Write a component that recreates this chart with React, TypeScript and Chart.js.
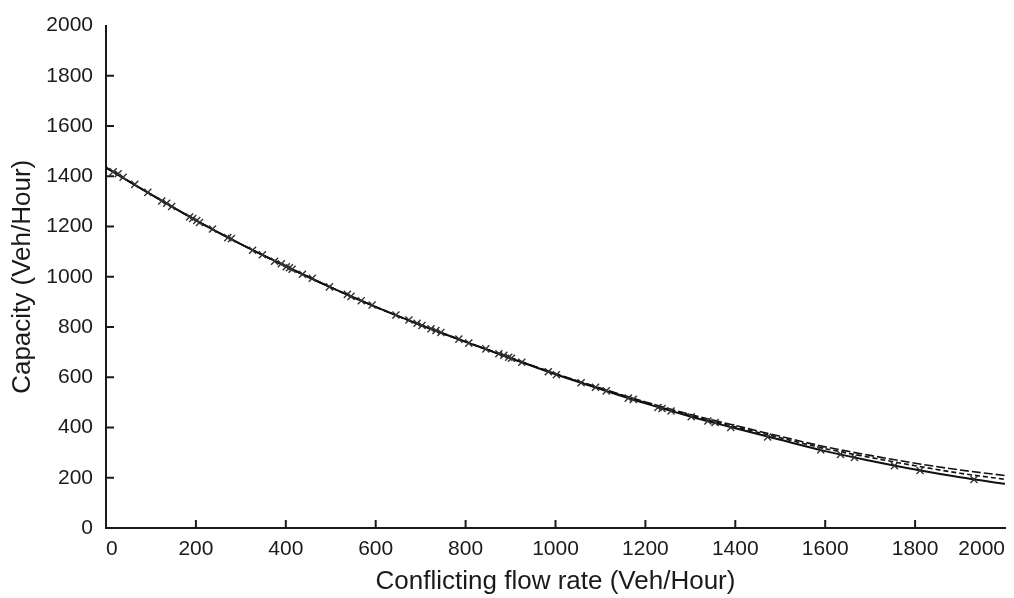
import React, { useEffect, useRef } from "react";
import { Chart, registerables } from "chart.js";

Chart.register(...registerables);

// Fitted curves (x = conflicting flow, y = capacity)
const curveX = [0, 100, 200, 300, 400, 500, 600, 700, 800, 900, 1000, 1100, 1200, 1300, 1400, 1500, 1600, 1700, 1800, 1900, 2000];
const solidY = [1435, 1328, 1225, 1130, 1042, 958, 880, 808, 741, 676, 612, 553, 496, 444, 397, 351, 306, 268, 233, 202, 176];
const longDashY = [1435, 1328, 1225, 1130, 1042, 958, 880, 808, 742, 678, 615, 557, 502, 452, 408, 365, 323, 289, 258, 231, 209];
const shortDashY = [1435, 1328, 1225, 1130, 1042, 958, 880, 808, 741, 677, 613, 555, 499, 448, 403, 359, 316, 281, 248, 218, 194];

// Observed points (x markers)
const obsX = [16, 27, 38, 64, 93, 124, 135, 146, 186, 193, 202, 208, 237, 271, 279, 326, 348, 375, 390, 401, 408, 414, 437, 459, 497, 537, 545, 568, 592, 645, 674, 692, 703, 723, 734, 745, 785, 807, 845, 874, 885, 896, 902, 925, 984, 1002, 1057, 1089, 1113, 1162, 1173, 1228, 1237, 1257, 1302, 1339, 1355, 1390, 1472, 1590, 1634, 1665, 1754, 1811, 1931];
const obsY = [1418, 1410, 1396, 1368, 1336, 1302, 1293, 1280, 1238, 1232, 1224, 1216, 1190, 1156, 1152, 1106, 1088, 1062, 1052, 1040, 1036, 1030, 1010, 994, 960, 930, 922, 905, 888, 848, 828, 815, 806, 793, 786, 778, 752, 736, 713, 694, 688, 680, 676, 660, 622, 610, 578, 560, 546, 517, 512, 480, 476, 466, 443, 426, 420, 400, 362, 311, 293, 281, 248, 229, 193];

const tickValues = [0, 200, 400, 600, 800, 1000, 1200, 1400, 1600, 1800, 2000];
const innerTickValues = [200, 400, 600, 800, 1000, 1200, 1400, 1600, 1800];

const xTitle = "Conflicting flow rate (Veh/Hour)";
const yTitle = "Capacity (Veh/Hour)";

const FONT = "'Liberation Sans', Arial, Helvetica, sans-serif";
const INK = "#1a1a1a";

const inwardTicks = {
  id: "inwardTicks",
  afterDraw(chart: any) {
    const { ctx, chartArea, scales } = chart;
    ctx.save();
    ctx.strokeStyle = INK;
    ctx.lineWidth = 2;
    ctx.beginPath();
    for (const v of innerTickValues) {
      const py = scales.y.getPixelForValue(v);
      ctx.moveTo(chartArea.left, py);
      ctx.lineTo(chartArea.left + 8, py);
      const px = scales.x.getPixelForValue(v);
      ctx.moveTo(px, chartArea.bottom);
      ctx.lineTo(px, chartArea.bottom - 8);
    }
    ctx.stroke();
    ctx.restore();
  },
};

export default function App() {
  const ref = useRef<HTMLCanvasElement>(null);
  useEffect(() => {
    document.body.style.margin = "0";
    const toXY = (xs: number[], ys: number[]) => xs.map((x, i) => ({ x, y: ys[i] }));
    const plain = (v: any) => String(v);
    const chart = new Chart(ref.current as HTMLCanvasElement, {
      type: "scatter",
      data: {
        datasets: [
          {
            label: "Observed",
            data: toXY(obsX, obsY),
            pointStyle: "crossRot",
            pointRadius: 5,
            borderColor: "#333",
            backgroundColor: "#333",
            borderWidth: 1.4,
            showLine: false,
          },
          {
            label: "Model A",
            data: toXY(curveX, longDashY),
            showLine: true,
            borderColor: "#111",
            borderWidth: 1.6,
            borderDash: [9, 3],
            pointRadius: 0,
            cubicInterpolationMode: "monotone",
          },
          {
            label: "Model B",
            data: toXY(curveX, shortDashY),
            showLine: true,
            borderColor: "#111",
            borderWidth: 1.6,
            borderDash: [5, 3],
            pointRadius: 0,
            cubicInterpolationMode: "monotone",
          },
          {
            label: "Model C",
            data: toXY(curveX, solidY),
            showLine: true,
            borderColor: "#111",
            borderWidth: 2,
            pointRadius: 0,
            cubicInterpolationMode: "monotone",
          },
        ],
      } as any,
      options: {
        animation: false,
        responsive: false,
        layout: { padding: { top: 16, right: 6, bottom: 0, left: 0 } },
        plugins: { legend: { display: false }, tooltip: { enabled: false } },
        scales: {
          x: {
            type: "linear",
            min: 0,
            max: 2000,
            afterBuildTicks: (s: any) => {
              s.ticks = tickValues.map((v) => ({ value: v }));
            },
            afterFit: (s: any) => {
              s.height = 70;
            },
            grid: { display: false, drawTicks: false },
            border: { display: true, color: INK, width: 2 },
            ticks: {
              callback: plain,
              align: "inner",
              padding: 9,
              color: INK,
              font: { family: FONT, size: 21 },
              maxRotation: 0,
              autoSkip: false,
            },
            title: {
              display: true,
              text: xTitle,
              color: INK,
              font: { family: FONT, size: 26 },
              padding: { top: 0, bottom: 1 },
            },
          },
          y: {
            type: "linear",
            min: 0,
            max: 2000,
            afterBuildTicks: (s: any) => {
              s.ticks = tickValues.map((v) => ({ value: v }));
            },
            afterFit: (s: any) => {
              s.width = 106;
            },
            grid: { display: false, drawTicks: false },
            border: { display: true, color: INK, width: 2 },
            ticks: {
              callback: plain,
              padding: 13,
              color: INK,
              font: { family: FONT, size: 21 },
              autoSkip: false,
            },
            title: {
              display: true,
              text: yTitle,
              color: INK,
              font: { family: FONT, size: 26 },
              padding: { top: 7, bottom: 0 },
            },
          },
        },
      } as any,
      plugins: [inwardTicks],
    });
    return () => chart.destroy();
  }, []);
  return (
    <div style={{ width: 1014, height: 598 }}>
      <canvas ref={ref} width={1014} height={598} style={{ display: "block" }} />
    </div>
  );
}
